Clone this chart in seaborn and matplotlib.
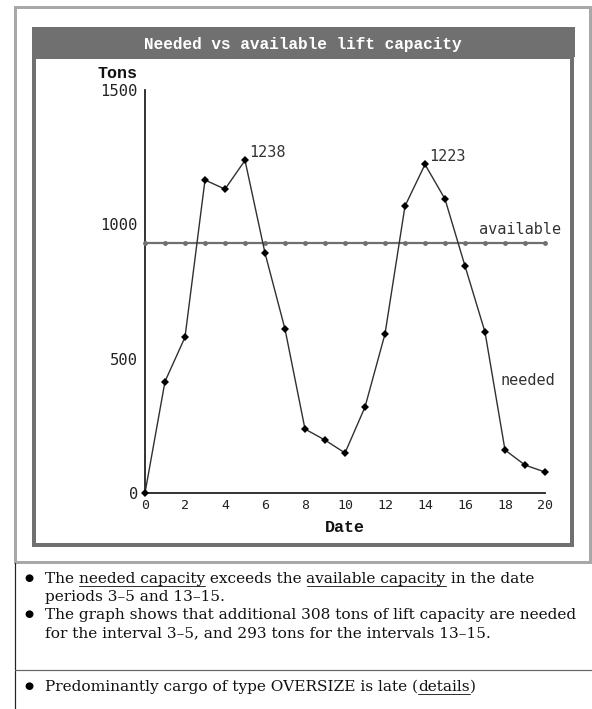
import numpy as np
import pandas as pd
import matplotlib
matplotlib.use("Agg")
import matplotlib.pyplot as plt
from matplotlib.patches import Rectangle
from matplotlib.lines import Line2D
import seaborn as sns

# data
dates = list(range(0, 21))
needed = [0, 415, 580, 1165, 1131, 1238, 893, 610, 238, 197, 149,
          320, 592, 1068, 1223, 1094, 845, 599, 160, 104, 78]
available = [930] * 21
peak_labels = {5: "1238", 14: "1223"}

title = "Needed vs available lift capacity"
bullets = [
    [("The ", False), ("needed capacity", True), (" exceeds the ", False),
     ("available capacity", True), (" in the date", False)],
    [("periods 3\u20135 and 13\u201315.", False)],
    [("The graph shows that additional 308 tons of lift capacity are needed", False)],
    [("for the interval 3\u20135, and 293 tons for the intervals 13\u201315.", False)],
    [("Predominantly cargo of type OVERSIZE is late (", False), ("details", True), (")", False)],
]

df = pd.DataFrame({"date": dates * 2,
                   "tons": needed + available,
                   "series": ["needed"] * 21 + ["available"] * 21})

sns.set_style("white")
W, H = 592, 709
fig = plt.figure(figsize=(W / 100, H / 100), dpi=100)


def fx(x):
    return x / W


def fy(y):
    return 1 - y / H


def px_lw(p):
    return p * 72 / 100


# frames
fig.patches.append(Rectangle((fx(14.5), fy(562)), fx(575), 555.5 / H, transform=fig.transFigure,
                             fill=False, edgecolor="#a8a8a8", lw=px_lw(3)))
fig.patches.append(Rectangle((fx(32), fy(57)), fx(543), 30 / H, transform=fig.transFigure,
                             facecolor="#707070", edgecolor="none"))
fig.patches.append(Rectangle((fx(34), fy(545)), fx(538), 488 / H, transform=fig.transFigure,
                             fill=False, edgecolor="#707070", lw=px_lw(4)))
fig.text(fx(303), fy(44), title, color="white", fontsize=11.6, fontweight="bold",
         family="Liberation Mono", ha="center", va="center")

# table lines below the chart
fig.lines.append(Line2D([fx(15), fx(15)], [fy(563), 0], transform=fig.transFigure, color="#222222", lw=px_lw(1.2)))
fig.lines.append(Line2D([fx(15), 1], [fy(670), fy(670)], transform=fig.transFigure, color="#666666", lw=px_lw(1.2)))

# chart axes
ax = fig.add_axes([fx(145), fy(493), 400 / W, 403 / H])
need_df = df[df["series"] == "needed"]
avail_df = df[df["series"] == "available"]
sns.lineplot(data=avail_df, x="date", y="tons", ax=ax, color="#707070", lw=1.6,
             marker="o", markersize=3.5, markeredgewidth=0, clip_on=False, zorder=3)
sns.lineplot(data=need_df, x="date", y="tons", ax=ax, color="#303030", lw=1.0,
             marker="D", markersize=4, markeredgewidth=0, markerfacecolor="black",
             clip_on=False, zorder=4)

ax.set_xlim(0, 20)
ax.set_ylim(0, 1500)
ax.set_xticks(range(0, 21, 2))
ax.set_yticks([0, 500, 1000, 1500])
ax.set_xlabel("")
ax.set_ylabel("")
for s in ["top", "right"]:
    ax.spines[s].set_visible(False)
for s in ["left", "bottom"]:
    ax.spines[s].set_color("#222222")
    ax.spines[s].set_linewidth(1.3)
ax.tick_params(axis="both", direction="inout", length=8, width=1.3, color="#222222")
ax.tick_params(axis="x", labelsize=9.5, pad=0)
ax.tick_params(axis="y", labelsize=11.2, pad=1)
for lab in ax.get_xticklabels() + ax.get_yticklabels():
    lab.set_family("DejaVu Sans Mono")
    lab.set_color("#222222")
ax.set_facecolor("none")

mono = dict(family="DejaVu Sans Mono", color="#333333", fontsize=11)
for i, txt in peak_labels.items():
    ax.annotate(txt, (dates[i], needed[i]), xytext=(3, 0), textcoords="offset points",
                va="bottom", ha="left", **mono)
fig.text(fx(479), fy(230), "available", va="center", ha="left", **mono)
fig.text(fx(500), fy(380), "needed", va="center", ha="left", **mono)
fig.text(fx(117), fy(74), "Tons", va="center", ha="center", family="Liberation Mono",
         fontweight="bold", fontsize=12, color="#111111")
fig.text(fx(345), fy(528), "Date", va="center", ha="center", family="Liberation Mono",
         fontweight="bold", fontsize=12, color="#111111")

# bullet text with underlined words
renderer = fig.canvas.get_renderer()
line_y = [583, 601, 619, 637, 691]
bullet_rows = {0, 2, 4}
for row, (segs, y) in enumerate(zip(bullets, line_y)):
    if row in bullet_rows:
        fig.text(fx(29), fy(y - 5), "\u25cf", fontsize=7.5, ha="center", va="center",
                 family="DejaVu Sans", color="black")
    x = 45
    for seg, under in segs:
        t = fig.text(fx(x), fy(y), seg, fontsize=11.1, family="DejaVu Serif",
                     va="baseline", ha="left", color="#111111")
        bb = t.get_window_extent(renderer)
        if under:
            fig.lines.append(Line2D([fx(x), fx(x + bb.width)], [fy(y + 3), fy(y + 3)],
                                    transform=fig.transFigure, color="#333333", lw=px_lw(1)))
        x += bb.width

fig.savefig("out.png", dpi=100)
